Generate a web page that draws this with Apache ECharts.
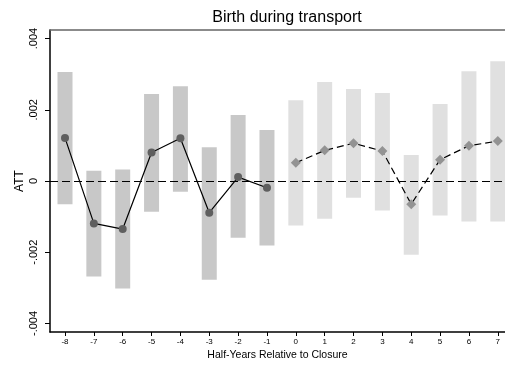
<!DOCTYPE html>
<html><head><meta charset="utf-8">
<script src="https://cdn.jsdelivr.net/npm/echarts@6/dist/echarts.min.js"></script>
<style>html,body{margin:0;padding:0;background:#fff}#c{width:505px;height:366px}</style>
</head><body><div id="c"></div>
<script>
var preX = [-8, -7, -6, -5, -4, -3, -2, -1];
var preEst = [0.00121, -0.00119, -0.00135, 0.00080, 0.00120, -0.00089, 0.00011, -0.00019];
var preLo = [-0.00065, -0.00268, -0.00302, -0.00086, -0.00030, -0.00277, -0.00159, -0.00181];
var preHi = [0.00306, 0.00029, 0.00032, 0.00244, 0.00266, 0.00095, 0.00185, 0.00143];
var postX = [0, 1, 2, 3, 4, 5, 6, 7];
var postEst = [0.00051, 0.00086, 0.00106, 0.00084, -0.00065, 0.00060, 0.00099, 0.00112];
var postLo = [-0.00125, -0.00106, -0.00047, -0.00083, -0.00207, -0.00097, -0.00114, -0.00114];
var postHi = [0.00227, 0.00278, 0.00258, 0.00247, 0.00073, 0.00216, 0.00308, 0.00336];
var xTicks = [-8, -7, -6, -5, -4, -3, -2, -1, 0, 1, 2, 3, 4, 5, 6, 7];
var yTicks = [-0.004, -0.002, 0, 0.002, 0.004];

function fmtY(v) {
  if (Math.abs(v) < 1e-12) return '0';
  var s = Math.abs(v).toFixed(3).replace(/^0/, '');
  return (v < 0 ? '-' : '') + s;
}
function zip(xs, ys) { return xs.map(function (x, i) { return [x, ys[i]]; }); }
function ciData(xs, lo, hi) { return xs.map(function (x, i) { return [x, lo[i], hi[i]]; }); }
function ciRender(color) {
  return function (params, api) {
    var x = api.value(0);
    var p1 = api.coord([x, api.value(2)]);
    var p2 = api.coord([x, api.value(1)]);
    var w = api.size([0.52, 0])[0];
    return { type: 'rect', shape: { x: p1[0] - w / 2, y: p1[1], width: w, height: p2[1] - p1[1] },
      style: { fill: color } };
  };
}
var font = 'Liberation Sans, Arial, sans-serif';
var chart = echarts.init(document.getElementById('c'), null, { renderer: 'canvas' });
chart.setOption({
  animation: false,
  backgroundColor: '#fff',
  title: { text: 'Birth during transport', left: 282, textAlign: 'center', top: 5,
    textStyle: { fontFamily: font, fontSize: 16, fontWeight: 'normal', color: '#000' } },
  grid: { left: 50, right: 0, top: 30, bottom: 34, containLabel: false },
  xAxis: [{
    type: 'value', min: -8.52, max: 7.25, position: 'bottom',
    name: 'Half-Years Relative to Closure', nameLocation: 'middle', nameGap: 18,
    nameMoveOverlap: false,
    nameTextStyle: { fontFamily: font, fontSize: 10.5, color: '#000' },
    axisLine: { show: true, onZero: false, lineStyle: { color: '#000', width: 1.5 } },
    axisTick: { show: true, length: 4, customValues: xTicks, lineStyle: { color: '#000' } },
    axisLabel: { customValues: xTicks, fontFamily: font, fontSize: 8, color: '#000', margin: 6 },
    splitLine: { show: false }
  }, {
    type: 'value', min: -8.52, max: 7.25, position: 'top',
    axisLine: { show: true, onZero: false, lineStyle: { color: '#666', width: 1.5 } },
    axisTick: { show: false }, axisLabel: { show: false }, splitLine: { show: false }
  }],
  yAxis: {
    type: 'value', min: -0.00424, max: 0.00424,
    name: 'ATT', nameLocation: 'middle', nameGap: 24, nameRotate: 90,
    nameMoveOverlap: false,
    nameTextStyle: { fontFamily: font, fontSize: 12, color: '#000' },
    axisLine: { show: true, onZero: false, lineStyle: { color: '#000', width: 1.5 } },
    axisTick: { show: true, length: 5, customValues: yTicks, lineStyle: { color: '#000' } },
    axisLabel: { customValues: yTicks, rotate: 90, fontFamily: font, fontSize: 11, color: '#000',
      margin: 11, formatter: fmtY },
    splitLine: { show: false }
  },
  series: [
    { type: 'custom', name: 'preCI', data: ciData(preX, preLo, preHi), renderItem: ciRender('#c8c8c8'),
      encode: { x: 0, y: [1, 2] }, z: 1, silent: true },
    { type: 'custom', name: 'postCI', data: ciData(postX, postLo, postHi), renderItem: ciRender('#e0e0e0'),
      encode: { x: 0, y: [1, 2] }, z: 1, silent: true },
    { type: 'line', name: 'zero', data: [], z: 2, silent: true,
      markLine: { silent: true, symbol: ['none', 'none'], label: { show: false },
        lineStyle: { color: '#000', type: [8, 4], width: 1.2 },
        data: [{ yAxis: 0 }] } },
    { type: 'line', name: 'pre', data: zip(preX, preEst), z: 3, symbol: 'circle', symbolSize: 8,
      lineStyle: { color: '#000', width: 1.2 }, itemStyle: { color: '#5f5f5f' } },
    { type: 'line', name: 'post', data: zip(postX, postEst), z: 3, symbol: 'diamond', symbolSize: 10,
      lineStyle: { color: '#000', width: 1.2, type: [7, 4] }, itemStyle: { color: '#939393' } }
  ]
});
</script></body></html>
